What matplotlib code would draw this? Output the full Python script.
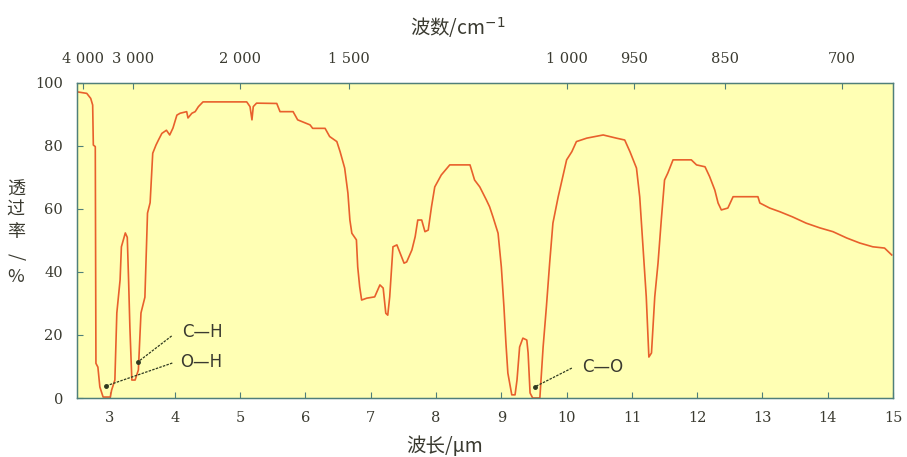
import matplotlib
matplotlib.use("Agg")
import matplotlib.pyplot as plt

plt.rcParams['font.family'] = ['Noto Sans CJK SC', 'DejaVu Sans']

# Spectrum: wavelength (um) and transmittance (%)
wavelength = [2.50, 2.65, 2.71, 2.74, 2.75, 2.78, 2.79, 2.82, 2.85, 2.90, 3.01, 3.03,
              3.08, 3.11, 3.16, 3.18, 3.24, 3.27, 3.29, 3.31, 3.34, 3.39, 3.44, 3.48,
              3.54, 3.58, 3.62, 3.66, 3.71, 3.75, 3.80, 3.87, 3.92, 3.97, 4.03, 4.08,
              4.18, 4.20, 4.26, 4.31, 4.36, 4.43, 5.10, 5.15, 5.18, 5.20, 5.25, 5.56,
              5.61, 5.81, 5.88, 6.07, 6.11, 6.30, 6.37, 6.48, 6.53, 6.60, 6.65, 6.68,
              6.71, 6.78, 6.80, 6.83, 6.86, 6.94, 7.06, 7.14, 7.19, 7.23, 7.26, 7.29,
              7.34, 7.40, 7.45, 7.51, 7.55, 7.63, 7.68, 7.72, 7.78, 7.83, 7.88, 7.93,
              7.98, 8.08, 8.21, 8.52, 8.59, 8.67, 8.77, 8.82, 8.87, 8.95, 9.00, 9.04,
              9.07, 9.10, 9.16, 9.21, 9.24, 9.28, 9.33, 9.39, 9.41, 9.44, 9.48, 9.59,
              9.64, 9.69, 9.74, 9.79, 9.87, 9.92, 10.00, 10.08, 10.15, 10.31, 10.56,
              10.76, 10.89, 10.97, 11.07, 11.12, 11.17, 11.22, 11.26, 11.30, 11.35,
              11.40, 11.45, 11.50, 11.55, 11.63, 11.91, 11.99, 12.12, 12.19, 12.27,
              12.32, 12.37, 12.47, 12.55, 12.93, 12.96, 13.11, 13.27, 13.46, 13.67,
              13.88, 14.08, 14.29, 14.49, 14.69, 14.87, 14.98]
transmittance = [97.2, 96.7, 95.1, 93.0, 80.3, 79.8, 11.0, 9.8, 3.5, 0.3, 0.3, 2.5,
                 5.7, 27.0, 37.5, 48.0, 52.4, 51.0, 37.5, 22.5, 5.7, 5.7, 8.9, 27.0,
                 32.0, 58.7, 62.0, 77.7, 80.3, 82.0, 84.0, 85.0, 83.5, 85.7, 89.8, 90.4,
                 90.9, 88.9, 90.4, 90.9, 92.5, 94.0, 94.0, 92.5, 88.3, 92.5, 93.6, 93.5,
                 90.9, 90.9, 88.3, 86.7, 85.6, 85.6, 83.0, 81.4, 78.2, 73.0, 65.0, 56.5,
                 52.3, 50.2, 41.6, 35.3, 31.1, 31.7, 32.1, 35.9, 34.9, 26.9, 26.3, 32.1,
                 48.0, 48.6, 46.0, 42.8, 43.2, 47.0, 51.2, 56.5, 56.5, 52.8, 53.3, 60.7,
                 67.0, 70.8, 74.0, 74.0, 69.2, 67.0, 62.9, 60.7, 57.6, 52.3, 41.6, 28.9,
                 17.5, 7.9, 1.0, 1.0, 5.7, 16.2, 19.0, 18.4, 14.3, 1.6, 0.0, 0.0,
                 16.2, 28.9, 42.8, 55.5, 63.8, 68.3, 75.6, 78.2, 81.4, 82.5, 83.5,
                 82.5, 81.9, 78.2, 73.0, 63.8, 48.0, 32.1, 13.0, 14.3, 32.1,
                 42.8, 56.5, 69.2, 71.4, 75.6, 75.6, 74.0, 73.4, 70.3, 66.0,
                 61.9, 59.7, 60.3, 63.9, 63.9, 61.9, 60.3, 59.1, 57.5, 55.5,
                 54.0, 52.8, 50.8, 49.2, 48.0, 47.6, 45.4]

bottom_ticks = [3, 4, 5, 6, 7, 8, 9, 10, 11, 12, 13, 14, 15]
y_ticks = [0, 20, 40, 60, 80, 100]
top_tick_pos = [2.59, 3.36, 5.0, 6.67, 10.0, 11.03, 12.42, 14.22]
top_tick_labels = ["4 000", "3 000", "2 000", "1 500", "1 000", "950", "850", "700"]

# annotations: label, text position (um, %), arrow tip (um, %), line start (um, %)
ann_labels = ["C—H", "O—H", "C—O"]
ann_text = [(4.11, 21.0), (4.08, 11.4), (10.23, 9.8)]
ann_start = [(3.95, 19.7), (3.96, 11.1), (10.08, 9.5)]
ann_tip = [(3.43, 11.4), (2.94, 3.8), (9.51, 3.5)]

ylabel_chars = ["透", "过", "率", "/", "%"]
ylabel_ypos = [0.66, 0.597, 0.527, 0.448, 0.384]
ylabel_rot = [0, 0, 0, -90, 0]

frame_col = '#4f7f7a'
text_col = '#3a3a30'
line_col = '#e8602c'

fig = plt.figure(figsize=(9.07, 4.57), dpi=100)
ax = fig.add_axes([0.0849, 0.1291, 0.8997, 0.6893])
ax.set_facecolor('#ffffb4')
ax.plot(wavelength, transmittance, color=line_col, lw=1.2)
ax.set_xlim(2.5, 15)
ax.set_ylim(0, 100)

for s in ax.spines.values():
    s.set_color(frame_col)
    s.set_linewidth(1.0)

ax.set_xticks(bottom_ticks)
ax.set_yticks(y_ticks)
ax.tick_params(direction='in', length=4, color=frame_col, labelcolor=text_col,
               labelsize=10.5, pad=9)
ax.tick_params(axis='y', pad=10)
ax.set_xticklabels([str(t) for t in bottom_ticks], family='DejaVu Serif')
ax.set_yticklabels([str(t) for t in y_ticks], family='DejaVu Serif')

ax2 = ax.twiny()
ax2.set_xlim(ax.get_xlim())
ax2.set_xticks(top_tick_pos)
ax2.set_xticklabels(top_tick_labels, family='DejaVu Serif')
ax2.tick_params(direction='in', length=4, color=frame_col, labelcolor=text_col,
                labelsize=10.5, pad=12)
for s in ax2.spines.values():
    s.set_color(frame_col)

fig.text(0.505, 0.939, "波数/cm$^{-1}$", ha='center', va='center', fontsize=14,
         color=text_col)
fig.text(0.49, 0.024, "波长/μm", ha='center', va='center', fontsize=14,
         color=text_col)
for ch, yp, rot in zip(ylabel_chars, ylabel_ypos, ylabel_rot):
    ax.text(-0.075, yp, ch, transform=ax.transAxes, ha='center', va='center',
            fontsize=13, color=text_col, rotation=rot)

for lab, tp, st, tip in zip(ann_labels, ann_text, ann_start, ann_tip):
    ax.plot([st[0], tip[0]], [st[1], tip[1]], color='#2f3a20', lw=0.9,
            ls=(0, (2, 1)))
    ax.plot([tip[0]], [tip[1]], marker='o', ms=2.5, color='#2f3a20')
    ax.text(tp[0], tp[1], lab, ha='left', va='center', fontsize=12,
            color=text_col, family='DejaVu Sans')

fig.savefig("out.png", dpi=100, facecolor='white')
